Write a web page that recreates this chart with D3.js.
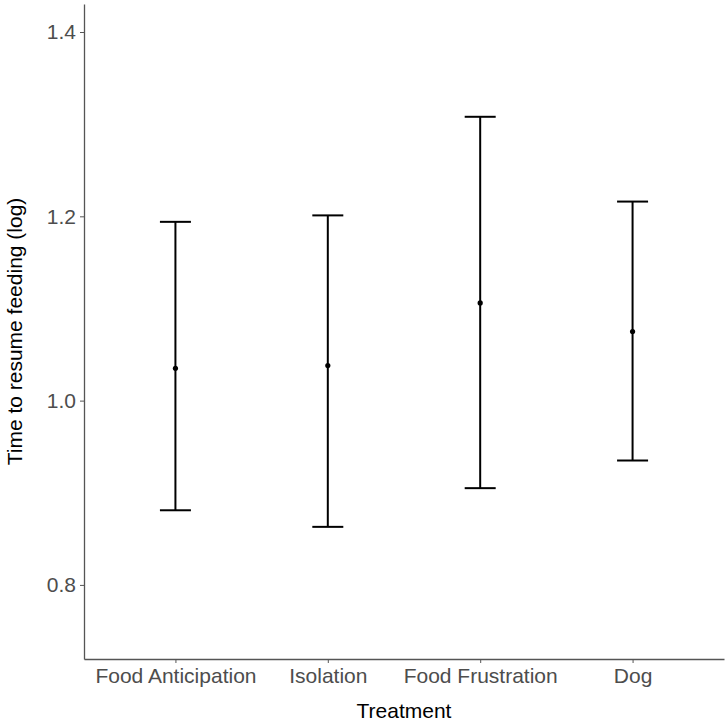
<!DOCTYPE html>
<html>
<head>
<meta charset="utf-8">
<script src="https://cdn.jsdelivr.net/npm/d3@7"></script>
<style>
  body { margin: 0; background: #fff; }
  svg { display: block; font-family: "Liberation Sans", Arial, sans-serif; }
</style>
</head>
<body>
<div id="chart"></div>
<script>
// data
const treatments = ['Food Anticipation', 'Isolation', 'Food Frustration', 'Dog'];
const means = [1.035, 1.038, 1.106, 1.075];
const lowers = [0.881, 0.863, 0.905, 0.935];
const uppers = [1.194, 1.201, 1.308, 1.216];
const yTicks = [0.8, 1.0, 1.2, 1.4];

const width = 728, height = 724;
const margin = { top: 4, right: 4, bottom: 65, left: 84 };

const svg = d3.select('#chart').append('svg')
  .attr('width', width)
  .attr('height', height);

// discrete axis with ggplot-like 0.6 expansion
const x = d3.scalePoint()
  .domain(treatments)
  .range([margin.left, width - margin.right])
  .padding(0.6);

const y = d3.scaleLinear()
  .domain([0.7196, 1.4304])
  .range([height - margin.bottom, margin.top]);

// Y axis
svg.append('g')
  .attr('transform', `translate(${margin.left},0)`)
  .call(d3.axisLeft(y).tickValues(yTicks).tickFormat(d3.format('.1f')).tickSize(4).tickSizeOuter(0))
  .call(g => g.select('.domain').attr('stroke', '#555').attr('stroke-width', 1.3))
  .call(g => g.selectAll('.tick line').attr('stroke', '#555'))
  .call(g => g.selectAll('.tick text').attr('fill', '#4d4d4d').attr('font-size', 21).attr('x', -8));

// X axis
svg.append('g')
  .attr('transform', `translate(0,${height - margin.bottom})`)
  .call(d3.axisBottom(x).tickSize(4).tickSizeOuter(0))
  .call(g => g.select('.domain').attr('stroke', '#555').attr('stroke-width', 1.3))
  .call(g => g.selectAll('.tick line').attr('stroke', '#555'))
  .call(g => g.selectAll('.tick text').attr('fill', '#4d4d4d').attr('font-size', 21).attr('y', 9));

// axis titles
svg.append('text')
  .attr('x', (margin.left + width - margin.right) / 2)
  .attr('y', 718)
  .attr('text-anchor', 'middle')
  .attr('font-size', 21)
  .attr('fill', '#000')
  .text('Treatment');

svg.append('text')
  .attr('transform', 'rotate(-90)')
  .attr('x', -(margin.top + height - margin.bottom) / 2)
  .attr('y', 22)
  .attr('text-anchor', 'middle')
  .attr('font-size', 21)
  .attr('fill', '#000')
  .text('Time to resume feeding (log)');

// error bars
const capHalf = 15.5;
const bars = svg.append('g');
treatments.forEach((t, i) => {
  const cx = x(t);
  bars.append('line')
    .attr('x1', cx).attr('x2', cx)
    .attr('y1', y(lowers[i])).attr('y2', y(uppers[i]))
    .attr('stroke', '#000').attr('stroke-width', 2);
  [lowers[i], uppers[i]].forEach(v => {
    bars.append('line')
      .attr('x1', cx - capHalf).attr('x2', cx + capHalf)
      .attr('y1', y(v)).attr('y2', y(v))
      .attr('stroke', '#000').attr('stroke-width', 2);
  });
  bars.append('circle')
    .attr('cx', cx).attr('cy', y(means[i]))
    .attr('r', 2.6)
    .attr('fill', '#000');
});
</script>
</body>
</html>
